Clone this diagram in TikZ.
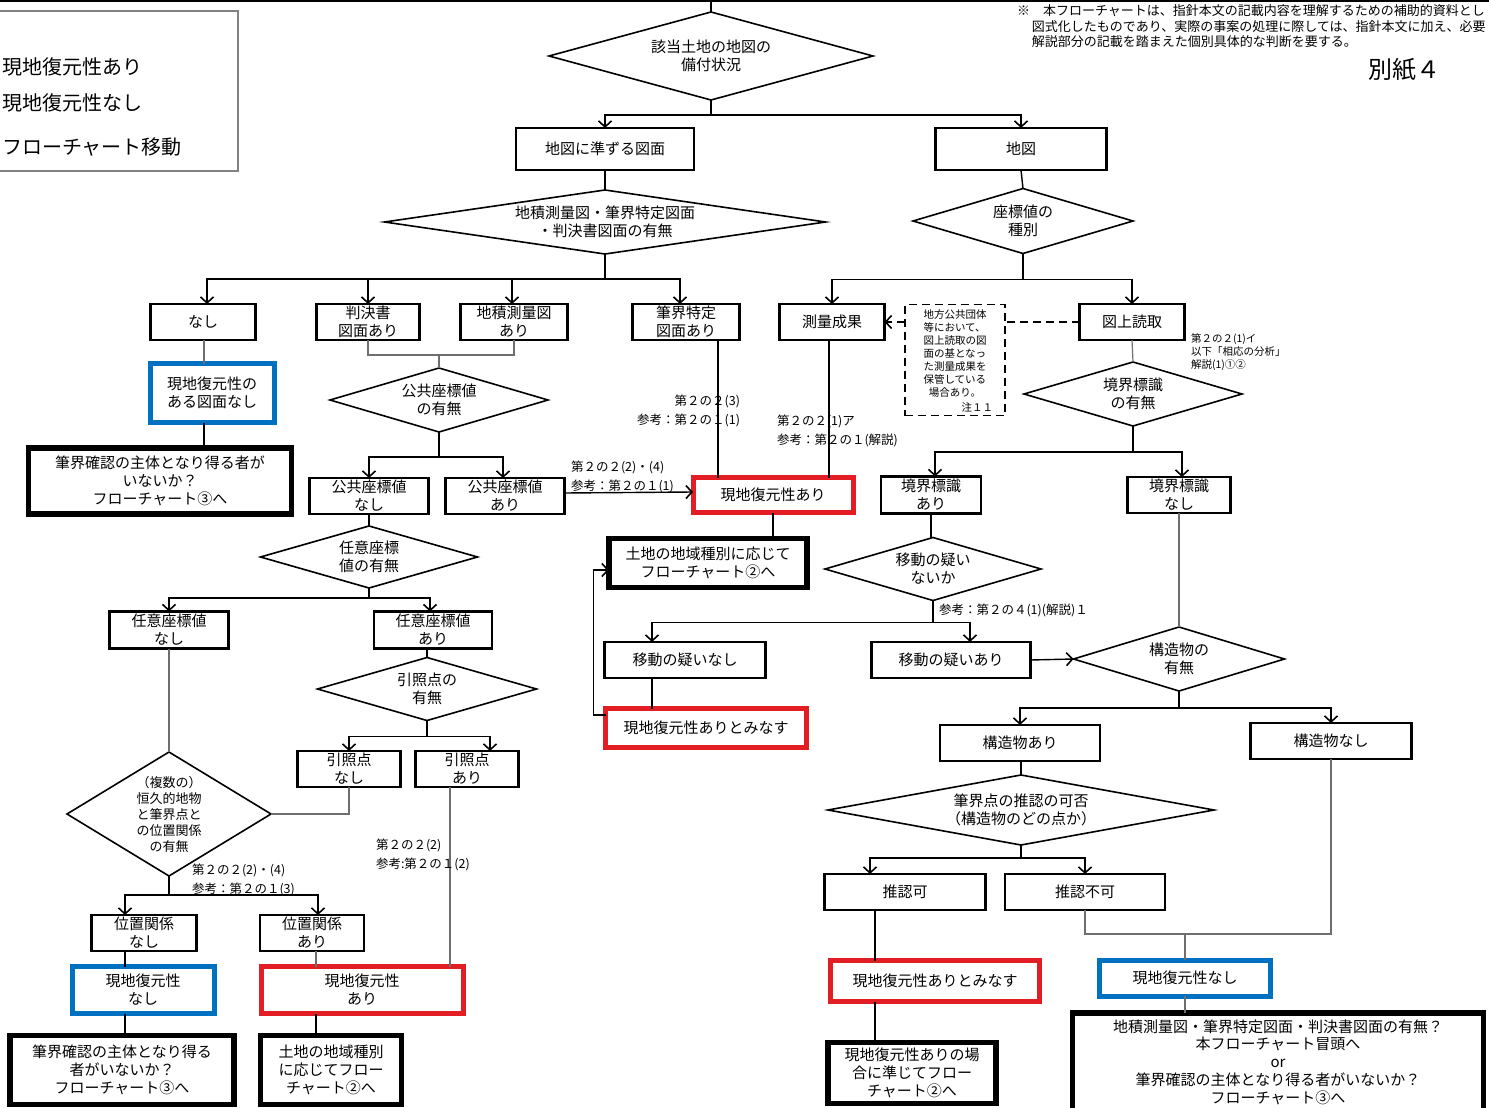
\documentclass[tikz,border=0pt]{standalone}
\usepackage{fontspec}
\setmainfont{Noto Sans CJK JP}
\usetikzlibrary{shapes.geometric,arrows.meta,calc}
\definecolor{hred}{RGB}{226,30,36}
\definecolor{hblue}{RGB}{0,112,192}
\definecolor{lgray}{RGB}{110,110,110}
\definecolor{frame}{RGB}{130,130,130}
\newcommand{\fsz}[2]{\fontsize{#1}{#2}\selectfont}

\begin{document}
\begin{tikzpicture}[x=1pt,y=-1pt,
  every node/.style={inner sep=0pt, outer sep=0pt},
  lbl/.style={align=center, font=\fsz{15}{18}},
  box/.style={lbl, draw, line width=2.2pt, rectangle},
  endbox/.style={lbl, draw, line width=5.5pt},
  okbox/.style={lbl, draw=hred, line width=5pt},
  ngbox/.style={lbl, draw=hblue, line width=5pt},
  dia/.style={lbl, draw, diamond, line width=1.6pt},
  refl/.style={font=\fsz{12.5}{19}, align=left},
  refr/.style={font=\fsz{12.5}{19}, align=right},
  conn/.style={line width=1.4pt},
  gconn/.style={line width=1.2pt, draw=lgray},
  arr/.style={conn, -{Straight Barb[length=6pt,width=13pt,line width=1.6pt]}},
  dashline/.style={line width=1.6pt, dash pattern=on 8pt off 5pt},
]
\clip (0,0) rectangle (1489,1108);
\fill[white] (0,0) rectangle (1489,1108);
\draw[line width=3pt] (0,1) -- (1489,1);

% legend (its left part lies beyond the page)
\draw[frame, line width=2pt] (-10,11) rectangle (238,171);
\node[anchor=west, font=\fsz{20}{24}] (lg1) at (2,67) {現地復元性あり};
\node[anchor=west, font=\fsz{20}{24}] (lg2) at (2,103) {現地復元性なし};
\node[anchor=west, font=\fsz{20}{24}] (lg3) at (2,147) {フローチャート移動};

% remark and sheet number
\node[anchor=north west, align=left, font=\fsz{13}{15.5}] (remark) at (1017,5)
  {※\hspace{1em}本フローチャートは、指針本文の記載内容を理解するための補助的資料とし\\
   \hspace{1.15em}図式化したものであり、実際の事案の処理に際しては、指針本文に加え、必要\\
   \hspace{1.15em}解説部分の記載を踏まえた個別具体的な判断を要する。};
\node[font=\fsz{24}{28}] (sheet) at (1404,70) {別紙４};

% ---- top ----
\coordinate (top) at (711,0);
\node[dia, minimum width=324, minimum height=88, shape aspect=3.7] (d1) at (711,56) {該当土地の地図の\\備付状況};
\draw[conn] (top) -- (d1.north);
\node[box, minimum width=178, minimum height=42] (mapsub) at (605,149) {地図に準ずる図面};
\node[box, minimum width=171, minimum height=42] (map) at (1021,149) {地図};
\draw[conn] (d1.south) -- ++(0,15) coordinate (j1);
\draw[arr] (j1) -| (mapsub.north);
\draw[arr] (j1) -| (map.north);

% ---- drawings equivalent to a map ----
\node[dia, minimum width=441, minimum height=64, shape aspect=6.9] (d2) at (605,222) {地積測量図・筆界特定図面\\・判決書図面の有無};
\draw[conn] (mapsub.south) -- (d2.north);
\node[box, minimum width=105, minimum height=36] (nashi) at (203,322) {なし};
\node[box, minimum width=103, minimum height=36] (hanketsu) at (368,322) {判決書\\図面あり};
\node[box, minimum width=107, minimum height=36] (chiseki) at (514,322) {地積測量図\\あり};
\node[box, minimum width=107, minimum height=36] (hikkai) at (686,322) {筆界特定\\図面あり};
\draw[conn] (d2.south) -- ++(0,25) coordinate (j2);
\draw[arr] (j2) -| ([xshift=4pt]nashi.north);
\draw[arr] (j2) -| (hanketsu.north);
\draw[arr] (j2) -| ([xshift=-2pt]chiseki.north);
\draw[arr] (j2) -| ([xshift=-6pt]hikkai.north);

% ---- map ----
\node[dia, minimum width=220, minimum height=65, shape aspect=3.4] (d3) at (1023,221) {座標値の\\種別};
\draw[conn] (map.south) -- (d3.north);
\node[box, minimum width=105, minimum height=36] (sokuryo) at (832,322) {測量成果};
\node[box, minimum width=105, minimum height=36] (zujo) at (1132,322) {図上読取};
\draw[conn] (d3.south) -- ++(0,26) coordinate (j3);
\draw[arr] (j3) -| (sokuryo.north);
\draw[arr] (j3) -| (zujo.north);

\node[draw, dashline, line width=1.3pt, minimum width=100, minimum height=111, align=left,
      font=\fsz{10.5}{13}, text depth=0pt] (note) at (955,360)
  {地方公共団体\\等において、\\図上読取の図\\面の基となっ\\た測量成果を\\保管している\\\hspace{0.5em}場合あり。\\\mbox{}};
\node[anchor=south east, font=\fsz{10.5}{13}] (noteno) at ([xshift=-12pt,yshift=3pt]note.south east) {注１１};
\draw[dashline] (zujo.west) -- (zujo.west -| note.east);
\draw[dashline, -{Straight Barb[length=6pt,width=13pt,line width=1.6pt]}] (zujo.west -| note.west) -- (sokuryo.east);

\node[anchor=north west, align=left, font=\fsz{10.5}{13}] (ann1) at (1191,334) {第２の２(1)イ\\以下「相応の分析」\\解説(1)①②};

\node[dia, minimum width=218, minimum height=64, shape aspect=3.4] (d4) at (1133,394) {境界標識\\の有無};
\draw[gconn] (zujo.south) -- (d4.north);
\node[box, minimum width=100, minimum height=37] (kyoA) at (931,495) {境界標識\\あり};
\node[box, minimum width=103, minimum height=36] (kyoN) at (1179,495) {境界標識\\なし};
\draw[conn] (d4.south) -- ++(0,26) coordinate (j4);
\draw[arr] (j4) -| ([xshift=4pt]kyoA.north);
\draw[arr] (j4) -| ([xshift=3pt]kyoN.north);

% ---- no drawing ----
\node[ngbox, minimum width=124, minimum height=59] (blue1) at (212,393) {現地復元性の\\ある図面なし};
\draw[gconn] ([xshift=1pt]nashi.south) -- ([xshift=1pt]nashi.south |- blue1.north);
\node[endbox, minimum width=263, minimum height=66] (blk1) at (160,481) {筆界確認の主体となり得る者が\\いないか？\\フローチャート③へ};
\draw[conn] ([xshift=-8pt]blue1.south) -- ([xshift=-8pt]blue1.south |- blk1.north);

% ---- public coordinates ----
\node[dia, minimum width=218, minimum height=64, shape aspect=3.4] (d5) at (439,400) {公共座標値\\の有無};
\draw[gconn] (hanketsu.south) -- ++(0,15) coordinate (j5) -- (j5 -| chiseki.south) -- (chiseki.south);
\draw[gconn] (d5.north) -- (d5.north |- j5);
\node[box, minimum width=119, minimum height=36] (kouN) at (369,496) {公共座標値\\なし};
\node[box, minimum width=119, minimum height=36] (kouA) at (505,496) {公共座標値\\あり};
\draw[conn] (d5.south) -- ++(0,25) coordinate (j6);
\draw[arr] (j6) -| (kouN.north);
\draw[arr] (j6) -| ([xshift=-2pt]kouA.north);

\node[okbox, minimum width=160, minimum height=35] (red1) at (773,495) {現地復元性あり};
\draw[arr] ([yshift=3pt]kouA.east) -- ([yshift=3pt]red1.west);
\node[refl, anchor=west] (ref1) at (571,477) {第２の２(2)・(4)\\参考：第２の１(1)};
\draw[conn] ([xshift=32pt]hikkai.south) -- ([xshift=32pt]hikkai.south |- red1.north);
\node[refr, anchor=east] (ref2) at (740,411) {第２の２(3)\\参考：第２の１(1)};
\draw[conn] ([xshift=-3pt]sokuryo.south) -- ([xshift=-3pt]sokuryo.south |- red1.north);
\node[refl, anchor=west] (ref3) at (777,431) {第２の２(1)ア\\参考：第２の１(解説)};

\node[endbox, minimum width=198, minimum height=49] (blk2) at (708,563) {土地の地域種別に応じて\\フローチャート②へ};
\draw[conn] (red1.south) -- (red1.south |- blk2.north);

% ---- boundary marks present ----
\node[dia, minimum width=216, minimum height=63, shape aspect=3.4] (d9) at (933,569) {移動の疑い\\ないか};
\draw[conn] (kyoA.south) -- (kyoA.south |- d9.north);
\node[box, minimum width=161, minimum height=36] (moveN) at (685,660) {移動の疑いなし};
\node[box, minimum width=159, minimum height=36] (moveA) at (951,660) {移動の疑いあり};
\draw[conn] (d9.south) -- ++(0,22) coordinate (j9);
\draw[arr] (j9) -| ([xshift=-33pt]moveN.north);
\draw[arr] (j9) -| ([xshift=19pt]moveA.north);
\node[refl, anchor=west] (ref4) at (939,610) {参考：第２の４(1)(解説)１};

\node[okbox, minimum width=201, minimum height=39] (red2) at (706,728) {現地復元性ありとみなす};
\draw[conn] ([xshift=-33pt]moveN.south) -- ([xshift=-33pt]moveN.south |- red2.north);
\draw[arr] ([yshift=13pt]red2.west) -- ++(-12,0) |- ([yshift=-7pt]blk2.west);

% ---- structures ----
\node[dia, minimum width=211, minimum height=64, shape aspect=3.3] (d10) at (1179,659) {構造物の\\有無};
\draw[arr] (moveA.east) -- (d10.west);
\draw[gconn] (kyoN.south) -- (kyoN.south |- d10.north);
\node[box, minimum width=160, minimum height=36] (strA) at (1020,743) {構造物あり};
\node[box, minimum width=161, minimum height=36] (strN) at (1331,741) {構造物なし};
\draw[conn] (d10.south) -- ++(0,17) coordinate (j10);
\draw[arr] (j10) -| (strA.north);
\draw[arr] (j10) -| (strN.north);

\node[dia, minimum width=386, minimum height=70, shape aspect=5.5] (d11) at (1021,810) {筆界点の推認の可否\\（構造物のどの点か）};
\draw[conn] (strA.south) -- (strA.south -| d11.north) -- (d11.north);
\node[box, minimum width=161, minimum height=36] (suiA) at (905,892) {推認可};
\node[box, minimum width=160, minimum height=36] (suiN) at (1085,892) {推認不可};
\draw[conn] (d11.south) -- ++(0,13) coordinate (j11);
\draw[arr] (j11) -| ([xshift=-35pt]suiA.north);
\draw[arr] (j11) -| (suiN.north);

\node[okbox, minimum width=209, minimum height=41] (red3) at (935,981) {現地復元性ありとみなす};
\draw[conn] ([xshift=-30pt]suiA.south) -- ([xshift=-30pt]suiA.south |- red3.north);
\node[endbox, minimum width=168, minimum height=61] (blk3) at (912,1073) {現地復元性ありの場\\合に準じてフロー\\チャート②へ};
\draw[conn] ([xshift=-30pt]suiA.south |- red3.south) -- ([xshift=-30pt]suiA.south |- blk3.north);

\node[ngbox, minimum width=171, minimum height=36] (blue2) at (1185,978) {現地復元性なし};
\draw[gconn] (suiN.south) -- ++(0,24) coordinate (j12) -- (j12 -| strN.south) -- (strN.south);
\draw[gconn] (blue2.north) -- (blue2.north |- j12);
\node[endbox, minimum width=411, minimum height=98, font=\fsz{15}{17.8}] (blk4) at (1278,1062)
  {地積測量図・筆界特定図面・判決書図面の有無？\\本フローチャート冒頭へ\\or\\筆界確認の主体となり得る者がいないか？\\フローチャート③へ};
\draw[gconn] (blue2.south) -- (blue2.south |- blk4.north);

% ---- arbitrary coordinates ----
\node[dia, minimum width=217, minimum height=62, shape aspect=3.5] (d6) at (369,557) {任意座標\\値の有無};
\draw[conn] (kouN.south) -- (d6.north);
\node[box, minimum width=119, minimum height=37] (ninN) at (169,630) {任意座標値\\なし};
\node[box, minimum width=118, minimum height=37] (ninA) at (433,630) {任意座標値\\あり};
\draw[conn] (d6.south) -- ++(0,10) coordinate (j7);
\draw[arr] (j7) -| (ninN.north);
\draw[arr] (j7) -| ([xshift=-3pt]ninA.north);

\node[dia, minimum width=219, minimum height=63, shape aspect=3.5] (d7) at (427,689) {引照点の\\有無};
\draw[conn] (ninA.south -| d7.north) -- (d7.north);
\node[box, minimum width=103, minimum height=36] (inN) at (349,769) {引照点\\なし};
\node[box, minimum width=103, minimum height=36] (inA) at (467,769) {引照点\\あり};
\draw[conn] (d7.south) -- ++(0,16) coordinate (j8);
\draw[arr] (j8) -| (inN.north);
\draw[arr] (j8) -| ([xshift=23pt]inA.north);

\node[dia, minimum width=204, minimum height=124, shape aspect=1.65, font=\fsz{13}{16}] (d8) at (169,814)
  {（複数の）\\恒久的地物\\と筆界点と\\の位置関係\\の有無};
\draw[gconn] (ninN.south) -- (d8.north);
\draw[gconn] (inN.south) |- (d8.east);

\node[box, minimum width=105, minimum height=36] (posN) at (144,933) {位置関係\\なし};
\node[box, minimum width=104, minimum height=36] (posA) at (312,933) {位置関係\\あり};
\draw[conn] (d8.south) -- ++(0,19) coordinate (j13);
\draw[arr] (j13) -| ([xshift=-19pt]posN.north);
\draw[arr] (j13) -| ([xshift=6pt]posA.north);
\node[refl, anchor=west] (ref5) at (192,880) {第２の２(2)・(4)\\参考：第２の１(3)};

\node[ngbox, minimum width=142, minimum height=47] (blue3) at (143,990) {現地復元性\\なし};
\draw[conn] ([xshift=-19pt]posN.south) -- ([xshift=-19pt]posN.south |- blue3.north);
\node[endbox, minimum width=224, minimum height=69] (blk5) at (122,1070) {筆界確認の主体となり得る\\者がいないか？\\フローチャート③へ};
\draw[conn] ([xshift=-18pt]blue3.south) -- ([xshift=-18pt]blue3.south |- blk5.north);

\node[okbox, minimum width=202, minimum height=47] (red4) at (362,990) {現地復元性\\あり};
\draw[gconn] ([xshift=4pt]posA.south) -- ([xshift=4pt]posA.south |- red4.north);
\draw[gconn] ([xshift=-17pt]inA.south) -- ([xshift=-17pt]inA.south |- red4.north);
\node[refl, anchor=west] (ref6) at (376,855) {第２の２(2)\\参考:第２の１(2)};
\node[endbox, minimum width=141, minimum height=69] (blk6) at (331,1070) {土地の地域種別\\に応じてフロー\\チャート②へ};
\draw[conn] ([xshift=-46pt]red4.south) -- ([xshift=-46pt]red4.south |- blk6.north);

\end{tikzpicture}
\end{document}
